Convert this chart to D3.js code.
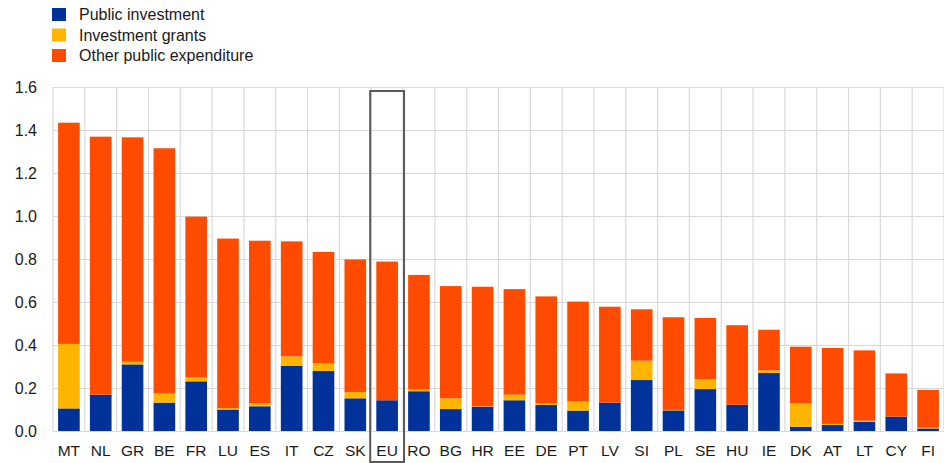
<!DOCTYPE html>
<html>
<head>
<meta charset="utf-8">
<script src="https://cdn.jsdelivr.net/npm/d3@7"></script>
<style>
  body { margin: 0; background: #fff; }
  text { font-family: Arial, "Liberation Sans", sans-serif; fill: #1a1a1a; }
</style>
</head>
<body>
<script>
var width = 944,
    height = 463;

// data
var countries = ["MT","NL","GR","BE","FR","LU","ES","IT","CZ","SK","EU","RO","BG","HR",
                 "EE","DE","PT","LV","SI","PL","SE","HU","IE","DK","AT","LT","CY","FI"];
var publicInvestment = [0.105,0.169,0.310,0.132,0.231,0.100,0.115,0.304,0.279,0.152,0.143,0.185,0.102,0.113,
                        0.143,0.121,0.095,0.132,0.237,0.096,0.195,0.122,0.270,0.020,0.028,0.042,0.067,0.012];
var investmentGrants = [0.300,0.000,0.012,0.043,0.020,0.006,0.014,0.043,0.036,0.029,0.000,0.009,0.050,0.002,
                        0.026,0.009,0.043,0.000,0.090,0.002,0.047,0.000,0.012,0.110,0.005,0.006,0.000,0.003];
var otherExpenditure = [1.029,1.200,1.044,1.140,0.746,0.789,0.756,0.535,0.518,0.617,0.645,0.532,0.522,0.556,
                        0.491,0.496,0.464,0.446,0.239,0.431,0.284,0.370,0.189,0.262,0.353,0.327,0.201,0.176];
var yTicks = [0, 0.2, 0.4, 0.6, 0.8, 1.0, 1.2, 1.4, 1.6];
var seriesNames = ["Public investment", "Investment grants", "Other public expenditure"];
var seriesColors = ["#003299", "#ffb400", "#ff4b00"];
var highlight = "EU";

var rows = countries.map(function(c, i) {
  return { country: c, pi: publicInvestment[i], ig: investmentGrants[i], oe: otherExpenditure[i] };
});

var margin = { left: 53, right: 0, top: 87, bottom: 32 };

var x = d3.scaleBand()
    .domain(countries)
    .range([margin.left, width - margin.right])
    .paddingInner(0.32)
    .paddingOuter(0.16);

var y = d3.scaleLinear()
    .domain([0, 1.6])
    .range([height - margin.bottom, margin.top]);

var svg = d3.select("body").append("svg")
    .attr("width", width)
    .attr("height", height);

// grid
var step = x.step();
var grid = svg.append("g").attr("class", "grid");
grid.selectAll("line.h")
  .data(yTicks)
  .enter().append("line")
    .attr("class", "h")
    .attr("x1", margin.left)
    .attr("x2", width - margin.right)
    .attr("y1", function(d) { return Math.round(y(d)) + 0.5; })
    .attr("y2", function(d) { return Math.round(y(d)) + 0.5; })
    .attr("stroke", "#d9d9d9")
    .attr("stroke-width", 1.2);

grid.selectAll("line.v")
  .data(d3.range(countries.length + 1))
  .enter().append("line")
    .attr("class", "v")
    .attr("x1", function(i) { return margin.left + i * step; })
    .attr("x2", function(i) { return margin.left + i * step; })
    .attr("y1", y(1.6))
    .attr("y2", y(0))
    .attr("stroke", "#d9d9d9")
    .attr("stroke-width", 1.2);

// bars
var stack = d3.stack().keys(["pi", "ig", "oe"]);
var layers = stack(rows);

svg.append("g")
  .selectAll("g")
  .data(layers)
  .enter().append("g")
    .attr("fill", function(d, i) { return seriesColors[i]; })
  .selectAll("rect")
  .data(function(d) { return d; })
  .enter().append("rect")
    .attr("x", function(d) { return x(d.data.country); })
    .attr("width", x.bandwidth())
    .attr("y", function(d) { return y(d[1]); })
    .attr("height", function(d) { return Math.max(0, y(d[0]) - y(d[1])); });

// y axis labels
svg.append("g")
  .selectAll("text")
  .data(yTicks)
  .enter().append("text")
    .attr("x", 37)
    .attr("y", function(d) { return y(d); })
    .attr("dy", "0.35em")
    .attr("text-anchor", "end")
    .style("font-size", "16px")
    .text(function(d) { return d3.format(".1f")(d); });

// x axis labels
svg.append("g")
  .selectAll("text")
  .data(countries)
  .enter().append("text")
    .attr("x", function(d) { return x(d) + x.bandwidth() / 2; })
    .attr("y", 456)
    .attr("text-anchor", "middle")
    .style("font-size", "15.5px")
    .text(function(d) { return d; });

// EU frame
svg.append("rect")
    .attr("x", x(highlight) - (step - x.bandwidth()) / 2 - 1)
    .attr("y", y(1.6) + 4)
    .attr("width", step + 2)
    .attr("height", height - 1 - (y(1.6) + 4))
    .attr("fill", "none")
    .attr("stroke", "#595959")
    .attr("stroke-width", 2);

// legend
var legend = svg.append("g").attr("class", "legend");
seriesNames.forEach(function(name, i) {
  legend.append("rect")
    .attr("x", 52)
    .attr("y", 8 + i * 20.5)
    .attr("width", 14)
    .attr("height", 13)
    .attr("fill", seriesColors[i]);
  legend.append("text")
    .attr("x", 79)
    .attr("y", 14.5 + i * 20.5)
    .attr("dy", "0.35em")
    .style("font-size", "16px")
    .text(name);
});
</script>
</body>
</html>
